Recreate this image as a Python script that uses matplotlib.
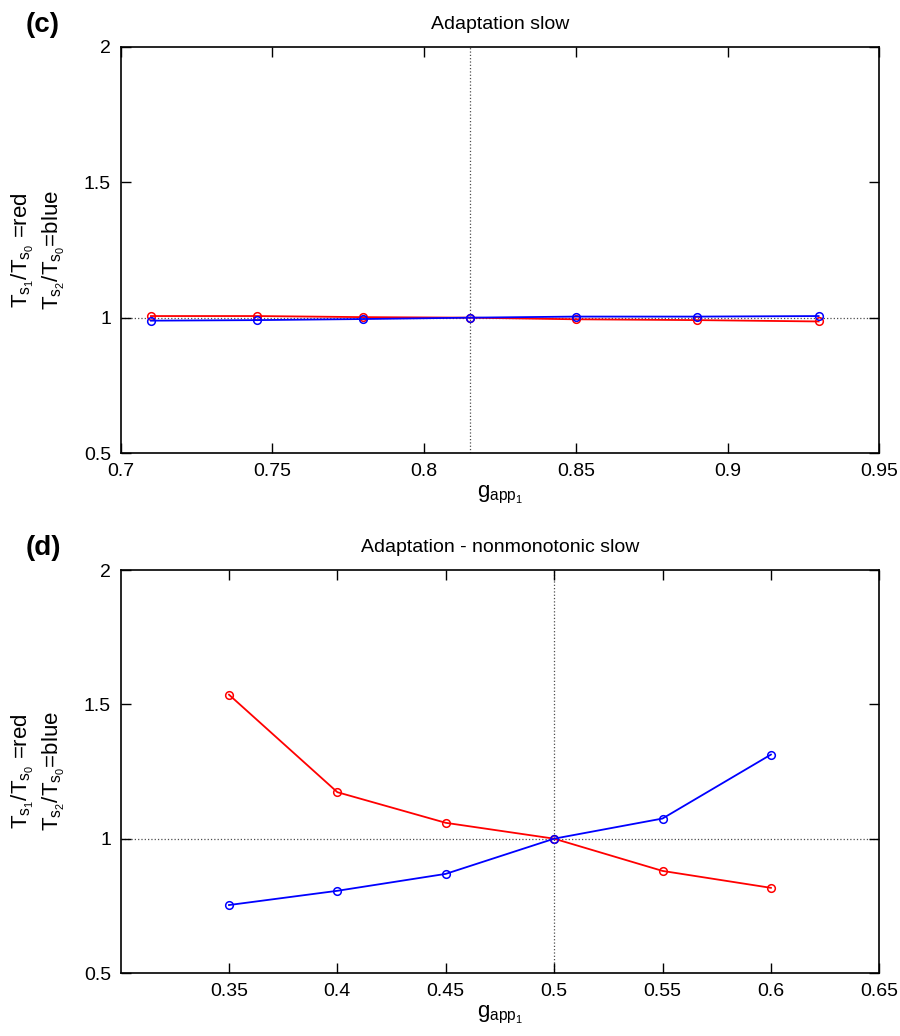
import numpy as np
import matplotlib.pyplot as plt

plt.rcParams['font.family'] = ['Liberation Sans Narrow', 'Liberation Sans']
plt.rcParams['mathtext.default'] = 'regular'
plt.rcParams['xtick.direction'] = 'in'
plt.rcParams['ytick.direction'] = 'in'

# panel (c): adaptation slow
g_c = [0.71, 0.745, 0.78, 0.815, 0.85, 0.89, 0.93]
red_c = [1.006, 1.006, 1.002, 1.0, 0.994, 0.991, 0.986]
blue_c = [0.989, 0.991, 0.995, 1.0, 1.004, 1.004, 1.006]
ref_c = 0.815
xticks_c = [0.7, 0.75, 0.8, 0.85, 0.9, 0.95]

# panel (d): adaptation - nonmonotonic slow
g_d = [0.35, 0.4, 0.45, 0.5, 0.55, 0.6]
red_d = [1.536, 1.173, 1.059, 1.0, 0.880, 0.817]
blue_d = [0.753, 0.806, 0.869, 1.0, 1.075, 1.313]
ref_d = 0.5
xticks_d = [0.35, 0.4, 0.45, 0.5, 0.55, 0.6, 0.65]

yticks = [0.5, 1, 1.5, 2]

fig = plt.figure(figsize=(9, 10.36), dpi=100)
ax_c = fig.add_axes([0.134, 0.5627, 0.843, 0.392])
ax_d = fig.add_axes([0.134, 0.0608, 0.843, 0.389])

panels = [
    (ax_c, g_c, red_c, blue_c, ref_c, xticks_c, (0.7, 0.95), "Adaptation slow", "(c)"),
    (ax_d, g_d, red_d, blue_d, ref_d, xticks_d, (0.3, 0.65), "Adaptation - nonmonotonic slow", "(d)"),
]

for ax, g, r, b, ref, xt, xl, title, tag in panels:
    ax.axhline(1, color="0.3", ls=":", lw=0.9, zorder=1)
    ax.axvline(ref, color="0.3", ls=":", lw=0.9, zorder=1)
    ax.plot(g, r, "-o", color="red", mfc="none", ms=5.5, lw=1.3, mew=1.1, zorder=3)
    ax.plot(g, b, "-o", color="blue", mfc="none", ms=5.5, lw=1.3, mew=1.1, zorder=3)
    ax.set_xlim(*xl)
    ax.set_ylim(0.5, 2)
    ax.set_xticks(xt)
    ax.set_xticklabels([f"{v:g}" for v in xt])
    ax.set_yticks(yticks)
    ax.set_yticklabels(["0.5", "1", "1.5", "2"])
    ax.tick_params(top=True, right=True, labelsize=14, length=7, width=1, pad=7)
    for s in ax.spines.values():
        s.set_linewidth(1.2)
    ax.set_title(title, fontsize=14, pad=13)
    ax.set_xlabel(r"$g_{app_1}$", fontsize=16, labelpad=3)
    ax.set_ylabel("$T_{s_1}/T_{s_0}$ =red\n$T_{s_2}/T_{s_0}$=blue",
                  fontsize=16, labelpad=12, linespacing=1.25)
    ax.text(-0.125, 1.055, tag, transform=ax.transAxes, fontsize=20,
            fontweight="bold", ha="left", va="center",
            family="Liberation Sans")

plt.savefig("out.png", dpi=100)
